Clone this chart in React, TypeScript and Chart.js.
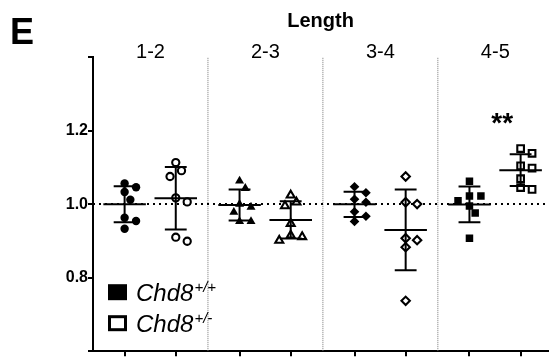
import React, { useEffect, useRef } from "react";
import { Chart, registerables } from "chart.js";

Chart.register(...registerables);

// ---------- data ----------
const panelLabel = "E";
const axisTitle = "Length";
const groups = ["1-2", "2-3", "3-4", "4-5"];
const genotypeBase = ["Chd8", "Chd8"];
const genotypeSup = ["+/+", "+/-"];
const significance = ["", "", "", "**"];
const yTicks = [0.6, 0.8, 1.0, 1.2, 1.4];
const yTickLabels = ["", "0.8", "1.0", "1.2", ""];
const referenceValue = 1.0;

const wt12 = [1.056, 1.046, 1.033, 1.012, 0.963, 0.954, 0.933];
const het12 = [1.113, 1.091, 1.075, 1.017, 1.006, 0.899, 0.91];
const wt23 = [1.063, 1.043, 1.0, 0.992, 0.978, 0.953, 0.953];
const het23 = [1.024, 1.005, 0.995, 0.947, 0.915, 0.901, 0.911];
const wt34 = [1.047, 1.031, 1.013, 1.005, 0.979, 0.967, 0.953];
const het34 = [1.075, 1.005, 1.0, 0.902, 0.907, 0.883, 0.737];
const wt45 = [1.062, 1.022, 1.022, 1.009, 0.995, 0.976, 0.907];
const het45 = [1.151, 1.138, 1.104, 1.098, 1.069, 1.04, 1.045];

const wildType = [wt12, wt23, wt34, wt45];
const heterozygous = [het12, het23, het34, het45];

// ---------- style ----------
const FONT = "'Liberation Sans', Arial, Helvetica, sans-serif";
const OFFSETS = [0.275, 0.72];
const X_MAX = 3.96;
const MEAN_HALF = 0.185;
const CAP_HALF = 0.095;
const PX_PER_X = 116.5;
const PX_PER_Y = 372.5;
const groupStyles = ["circle", "triangle", "rectRot", "rect"];
const filledRadius = [4.2, 5.2, 4.8, 5.3];
const openRadius = [3.6, 4.6, 4.2, 4.7];

function swarm(values: number[], center: number) {
  const minDist = 8.5;
  const step = 5.8;
  const placed: { x: number; y: number }[] = [];
  const order = values.map((_, i) => i).sort((a, b) => values[b] - values[a]);
  const result: { x: number; y: number }[] = new Array(values.length);
  for (const i of order) {
    const ypx = values[i] * PX_PER_Y;
    for (let k = 0; k < 30; k++) {
      const off = (k % 2 === 1 ? 1 : -1) * Math.ceil(k / 2) * step;
      const ok = placed.every((p) => Math.hypot(p.x - off, p.y - ypx) >= minDist);
      if (ok) {
        placed.push({ x: off, y: ypx });
        result[i] = { x: center + off / PX_PER_X, y: values[i] };
        break;
      }
    }
  }
  return result;
}

function stats(a: number[]) {
  const m = a.reduce((s, v) => s + v, 0) / a.length;
  const sd = Math.sqrt(a.reduce((s, v) => s + (v - m) * (v - m), 0) / (a.length - 1));
  return { m, sd };
}

const GAP = { x: null as any, y: null as any };

function buildErrorBars() {
  const out: any[] = [];
  groups.forEach((_, g) => {
    [wildType[g], heterozygous[g]].forEach((vals, j) => {
      const cx = g + OFFSETS[j];
      const { m, sd } = stats(vals);
      out.push({ x: cx - MEAN_HALF, y: m }, { x: cx + MEAN_HALF, y: m }, GAP);
      out.push({ x: cx, y: m - sd }, { x: cx, y: m + sd }, GAP);
      out.push({ x: cx - CAP_HALF, y: m + sd }, { x: cx + CAP_HALF, y: m + sd }, GAP);
      out.push({ x: cx - CAP_HALF, y: m - sd }, { x: cx + CAP_HALF, y: m - sd }, GAP);
    });
  });
  return out;
}

function buildSeparators() {
  const out: any[] = [];
  for (let i = 1; i < groups.length; i++) {
    out.push({ x: i, y: yTicks[0] }, { x: i, y: yTicks[yTicks.length - 1] }, GAP);
  }
  return out;
}

const decorPlugin = {
  id: "decor",
  afterDraw(chart: any) {
    const { ctx, chartArea, scales } = chart;
    const x = scales.x;
    const y = scales.y;
    ctx.save();
    ctx.fillStyle = "#000";
    ctx.strokeStyle = "#000";
    // panel letter
    ctx.font = `bold 36px ${FONT}`;
    ctx.textAlign = "left";
    ctx.textBaseline = "alphabetic";
    ctx.fillText(panelLabel, 10, 44);
    // axis title
    ctx.font = `bold 20px ${FONT}`;
    ctx.textAlign = "center";
    ctx.fillText(axisTitle, (chartArea.left + chartArea.right) / 2, 27);
    // group labels
    ctx.font = `20px ${FONT}`;
    groups.forEach((g, i) => {
      ctx.fillText(g, x.getPixelForValue(i + 0.5), chartArea.top + 1);
    });
    // significance
    ctx.font = `bold 28px ${FONT}`;
    significance.forEach((s, i) => {
      if (!s) return;
      const top = Math.max(...heterozygous[i], ...wildType[i]);
      ctx.fillText(s, x.getPixelForValue(i + 0.56), y.getPixelForValue(top) - 17);
    });
    // legend
    const lx = chartArea.left + 15;
    const rows = [chartArea.bottom - 67, chartArea.bottom - 36];
    rows.forEach((top, j) => {
      if (j === 0) {
        ctx.fillRect(lx, top, 19, 16);
      } else {
        ctx.lineWidth = 3;
        ctx.strokeRect(lx + 1.5, top + 1.5, 16, 13);
      }
      const base = top + 17;
      ctx.textAlign = "left";
      ctx.font = `italic 24px ${FONT}`;
      ctx.fillText(genotypeBase[j], lx + 28, base);
      const w = ctx.measureText(genotypeBase[j]).width;
      ctx.font = `italic 15px ${FONT}`;
      ctx.fillText(genotypeSup[j], lx + 28 + w + 1, base - 9);
    });
    ctx.restore();
  },
};

export default function App() {
  const ref = useRef<HTMLCanvasElement | null>(null);
  useEffect(() => {
    if (!ref.current) return;
    const pointSets: any[] = [];
    groups.forEach((_, g) => {
      pointSets.push({
        label: `wt ${groups[g]}`,
        data: swarm(wildType[g], g + OFFSETS[0]),
        pointStyle: groupStyles[g],
        pointRadius: filledRadius[g],
        pointBackgroundColor: "#000",
        pointBorderColor: "#000",
        pointBorderWidth: 0,
        showLine: false,
      });
    });
    groups.forEach((_, g) => {
      pointSets.push({
        label: `het ${groups[g]}`,
        data: swarm(heterozygous[g], g + OFFSETS[1]),
        pointStyle: groupStyles[g],
        pointRadius: openRadius[g],
        pointBackgroundColor: "#fff",
        pointBorderColor: "#000",
        pointBorderWidth: 2.1,
        showLine: false,
      });
    });
    const chart = new Chart(ref.current, {
      type: "scatter",
      data: {
        datasets: [
          {
            label: "errorbars",
            data: buildErrorBars(),
            showLine: true,
            borderColor: "#000",
            borderWidth: 2,
            pointRadius: 0,
            spanGaps: false,
          } as any,
          ...pointSets,
          {
            label: "reference",
            data: [
              { x: 0, y: referenceValue },
              { x: X_MAX, y: referenceValue },
            ],
            showLine: true,
            borderColor: "#000",
            borderWidth: 2,
            borderDash: [2, 4],
            pointRadius: 0,
          },
          {
            label: "separators",
            data: buildSeparators(),
            showLine: true,
            borderColor: "#777",
            borderWidth: 1,
            borderDash: [1, 1],
            pointRadius: 0,
            spanGaps: false,
          },
        ],
      },
      options: {
        responsive: false,
        animation: false,
        events: [],
        layout: { padding: { top: 57, left: 0, right: 0, bottom: 0 } },
        plugins: { legend: { display: false }, tooltip: { enabled: false } },
        scales: {
          x: {
            type: "linear",
            position: "bottom",
            min: 0,
            max: X_MAX,
            afterBuildTicks: (s: any) => {
              const t: any[] = [];
              groups.forEach((_, g) => OFFSETS.forEach((o) => t.push({ value: g + o })));
              s.ticks = t;
            },
            ticks: { display: false },
            grid: {
              display: true,
              drawOnChartArea: false,
              drawTicks: true,
              tickLength: 5,
              color: "#000",
              lineWidth: 2,
            },
            border: { display: true, color: "#000", width: 2 },
            afterFit: (s: any) => {
              s.height = 3;
              s.paddingLeft = 0;
              s.paddingRight = 0;
            },
          },
          y: {
            type: "linear",
            min: yTicks[0],
            max: yTicks[yTicks.length - 1],
            afterBuildTicks: (s: any) => {
              s.ticks = yTicks.map((v) => ({ value: v }));
            },
            ticks: {
              callback: (v: any) => {
                const i = yTicks.findIndex((t) => Math.abs(t - Number(v)) < 1e-9);
                return i >= 0 ? yTickLabels[i] : "";
              },
              font: { family: FONT, size: 16, weight: "bold" },
              color: "#000",
              padding: 0,
              autoSkip: false,
            },
            grid: {
              drawOnChartArea: false,
              drawTicks: true,
              tickLength: 5,
              color: "#000",
              lineWidth: 2,
            },
            border: { display: true, color: "#000", width: 2 },
            afterFit: (s: any) => {
              s.width = 93;
              s.paddingTop = 0;
              s.paddingBottom = 0;
            },
          },
        },
      } as any,
      plugins: [decorPlugin],
    });
    return () => chart.destroy();
  }, []);
  return (
    <div
      style={{
        position: "absolute",
        left: 0,
        top: 0,
        width: 555,
        height: 358,
        background: "#fff",
      }}
    >
      <canvas ref={ref} width={555} height={358} style={{ display: "block" }} />
    </div>
  );
}
